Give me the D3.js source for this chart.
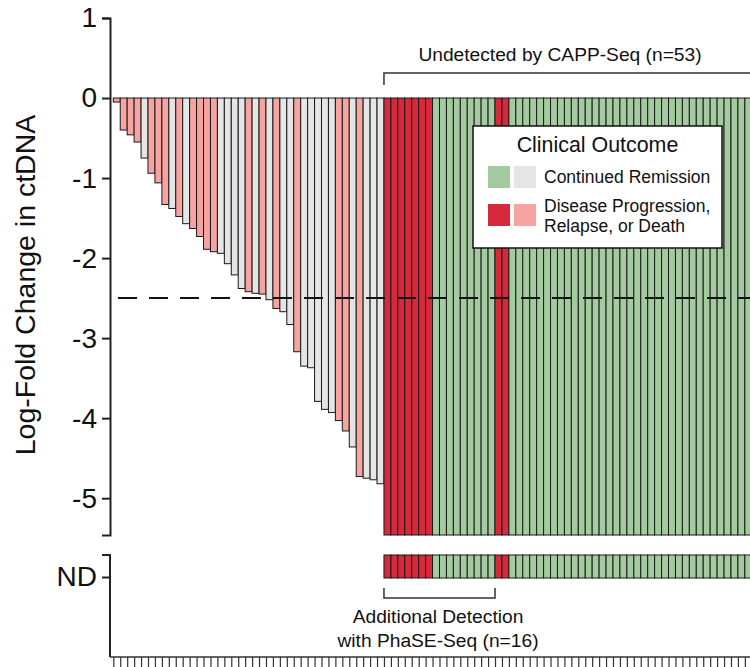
<!DOCTYPE html>
<html>
<head>
<meta charset="utf-8">
<script src="https://cdn.jsdelivr.net/npm/d3@7"></script>
<style>
  html, body { margin: 0; padding: 0; background: #fff; }
  svg { display: block; font-family: "Liberation Sans", Arial, Helvetica, sans-serif; }
</style>
</head>
<body>
<svg id="chart" width="750" height="667"></svg>
<script>
// Log-fold change in ctDNA for patients detected by CAPP-Seq (sorted)
const detectedValues = [
  -0.05, -0.40, -0.46, -0.55, -0.75, -0.94, -1.06, -1.33, -1.38, -1.48,
  -1.57, -1.63, -1.73, -1.89, -1.92, -1.94, -2.07, -2.21, -2.38, -2.42,
  -2.44, -2.45, -2.52, -2.63, -2.67, -2.83, -3.17, -3.35, -3.37, -3.79,
  -3.89, -3.93, -4.03, -4.16, -4.36, -4.73, -4.75, -4.77, -4.82
];
// Clinical outcome per detected patient: P = progression/relapse/death, R = continued remission
const detectedOutcome = [
  "P","P","P","P","R","P","P","P","R","P",
  "R","P","P","P","P","R","R","R","R","P",
  "R","P","R","P","R","R","P","R","R","R",
  "R","R","P","P","R","P","R","R","R"
];
// Patients undetected by CAPP-Seq (n=53); the first 16 were detected by PhaSE-Seq
const undetectedOutcome = [].concat(
  Array(7).fill("P"), Array(9).fill("R"), Array(2).fill("P"), Array(35).fill("R")
);
const additionalDetected = 16;
const yTicks = [1, 0, -1, -2, -3, -4, -5];
const threshold = -2.5;

const colors = {
  detected:   { P: "#f6a3a2", R: "#e5e5e5" },
  undetected: { P: "#d6293b", R: "#a3cb9f" }
};

const svg = d3.select("#chart");
const nTotal = detectedValues.length + undetectedOutcome.length;

// Horizontal placement: one band per patient
const xEdge = d3.scaleLinear().domain([0, nTotal]).range([113.3, 751.8]);
const bw = xEdge(1) - xEdge(0);

// Vertical scale for the log-fold change panel
const y = d3.scaleLinear().domain([1, -5.46]).range([18, 535]);
const axisX = 110;

// Y axis (upper panel)
const yAxis = svg.append("g")
  .attr("transform", `translate(${axisX},0)`)
  .call(d3.axisLeft(y).tickValues(yTicks).tickFormat(d => String(d)).tickSize(8).tickSizeOuter(8).tickPadding(5));
yAxis.select(".domain").attr("stroke", "#222").attr("stroke-width", 2);
yAxis.selectAll(".tick line").attr("stroke", "#222").attr("stroke-width", 2);
yAxis.selectAll(".tick text").attr("font-size", 28).attr("fill", "#111").attr("font-family", "Liberation Sans, Arial, sans-serif");

// Y axis title
svg.append("text")
  .attr("transform", `translate(35,285) rotate(-90)`)
  .attr("text-anchor", "middle")
  .attr("font-size", 28.5)
  .attr("fill", "#111")
  .text("Log-Fold Change in ctDNA");

// Detected patients: bars from 0 down to their value
const bars = svg.append("g");
bars.selectAll("rect.det")
  .data(detectedValues)
  .join("rect")
  .attr("class", "det")
  .attr("x", (d, i) => xEdge(i))
  .attr("y", y(0))
  .attr("width", bw)
  .attr("height", d => y(d) - y(0))
  .attr("fill", (d, i) => colors.detected[detectedOutcome[i]])
  .attr("stroke", "#1a1a1a")
  .attr("stroke-width", 1);

// Undetected patients: bars spanning the whole negative range
const off = detectedValues.length;
bars.selectAll("rect.und")
  .data(undetectedOutcome)
  .join("rect")
  .attr("class", "und")
  .attr("x", (d, i) => xEdge(off + i))
  .attr("y", y(0))
  .attr("width", bw)
  .attr("height", y.range()[1] - y(0))
  .attr("fill", d => colors.undetected[d])
  .attr("stroke", "#1a1a1a")
  .attr("stroke-width", 1);

// Detection threshold
svg.append("line")
  .attr("x1", 118).attr("x2", 750)
  .attr("y1", y(threshold)).attr("y2", y(threshold))
  .attr("stroke", "#111")
  .attr("stroke-width", 2)
  .attr("stroke-dasharray", "19,12");

// ND panel
const ndTop = 555, ndBottom = 578;
const yND = d3.scalePoint().domain(["ND"]).range([577, 577]);
svg.append("g").selectAll("rect")
  .data(undetectedOutcome)
  .join("rect")
  .attr("x", (d, i) => xEdge(off + i))
  .attr("y", ndTop)
  .attr("width", bw)
  .attr("height", ndBottom - ndTop)
  .attr("fill", d => colors.undetected[d])
  .attr("stroke", "#1a1a1a")
  .attr("stroke-width", 1);

const ndAxis = svg.append("g")
  .attr("transform", `translate(${axisX},0)`)
  .call(d3.axisLeft(yND).tickSize(8).tickSizeOuter(0).tickPadding(5));
ndAxis.select(".domain").remove();
ndAxis.selectAll(".tick line").attr("stroke", "#222").attr("stroke-width", 2);
ndAxis.selectAll(".tick text").attr("font-size", 28).attr("fill", "#111").attr("font-family", "Liberation Sans, Arial, sans-serif");
svg.append("path")
  .attr("d", `M${axisX - 8},${ndTop}H${axisX}V657`)
  .attr("fill", "none")
  .attr("stroke", "#222")
  .attr("stroke-width", 2);

// Bottom axis: one tick per patient
const xAxis = svg.append("g")
  .attr("transform", `translate(0,657)`)
  .call(d3.axisBottom(xEdge).tickValues(d3.range(nTotal)).tickFormat("").tickSize(10).tickSizeOuter(0));
xAxis.select(".domain").attr("stroke", "#333").attr("stroke-width", 1.5).attr("d", `M${axisX},0H750`);
xAxis.selectAll(".tick line").attr("stroke", "#333").attr("stroke-width", 1.2);

// Bracket: undetected by CAPP-Seq
const bx0 = xEdge(off), bx1 = xEdge(nTotal);
svg.append("path")
  .attr("d", `M${bx0},85V73H${bx1}V85`)
  .attr("fill", "none").attr("stroke", "#333").attr("stroke-width", 1.5);
svg.append("text")
  .attr("x", 560).attr("y", 61)
  .attr("text-anchor", "middle")
  .attr("font-size", 19.2)
  .attr("fill", "#111")
  .text(`Undetected by CAPP-Seq (n=${undetectedOutcome.length})`);

// Bracket: additional detection with PhaSE-Seq
const ax1 = xEdge(off + additionalDetected);
svg.append("path")
  .attr("d", `M${bx0},588V598H${ax1}V588`)
  .attr("fill", "none").attr("stroke", "#333").attr("stroke-width", 1.5);
const addText = svg.append("text")
  .attr("text-anchor", "middle")
  .attr("font-size", 19.2)
  .attr("fill", "#111");
addText.append("tspan").attr("x", 438).attr("y", 623).text("Additional Detection");
addText.append("tspan").attr("x", 438).attr("y", 647).text(`with PhaSE-Seq (n=${additionalDetected})`);

// Legend
const legend = svg.append("g").attr("transform", "translate(473,126)");
legend.append("rect")
  .attr("width", 249).attr("height", 122)
  .attr("fill", "#fff").attr("stroke", "#111").attr("stroke-width", 1.5);
legend.append("text")
  .attr("x", 124.5).attr("y", 26)
  .attr("text-anchor", "middle")
  .attr("font-size", 21.4)
  .attr("fill", "#111")
  .text("Clinical Outcome");
const rows = [
  { key: "R", lines: ["Continued Remission"], y: 40 },
  { key: "P", lines: ["Disease Progression,", "Relapse, or Death"], y: 78 }
];
rows.forEach(r => {
  legend.append("rect").attr("x", 15).attr("y", r.y).attr("width", 22).attr("height", 22)
    .attr("fill", colors.undetected[r.key]);
  legend.append("rect").attr("x", 41).attr("y", r.y).attr("width", 22).attr("height", 22)
    .attr("fill", colors.detected[r.key]);
  const t = legend.append("text").attr("font-size", 17.5).attr("fill", "#111");
  r.lines.forEach((ln, j) => {
    t.append("tspan").attr("x", 71)
      .attr("y", r.lines.length === 1 ? r.y + 17 : r.y + 8 + j * 20)
      .text(ln);
  });
});
</script>
</body>
</html>
